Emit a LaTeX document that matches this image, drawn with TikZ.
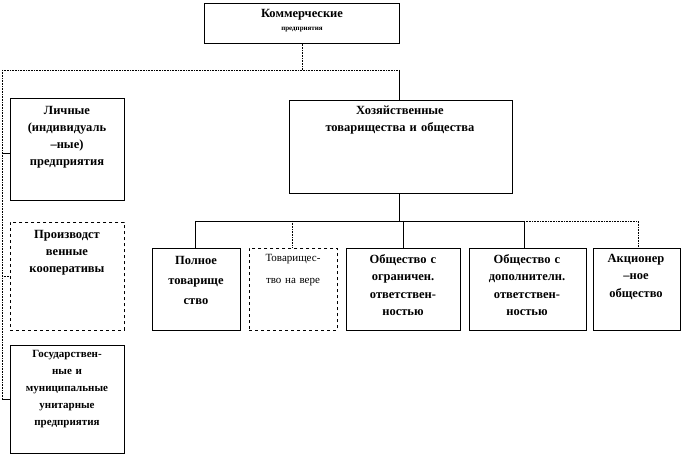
\documentclass[tikz,border=0pt]{standalone}
\usepackage{fontspec}
\setmainfont{Liberation Serif}
\begin{document}
\begin{tikzpicture}[x=1pt,y=-1pt,
 bx/.style={draw,rectangle,anchor=north west,inner sep=0pt,line width=0.6pt},
 tx/.style={anchor=north,align=center,inner sep=0pt,font=\bfseries\fontsize{12.5}{17}\selectfont},
 ln/.style={draw,line width=0.6pt},
 dl/.style={draw,densely dotted,line width=0.6pt}]
\useasboundingbox (0,0) rectangle (686,457);
\node[bx,minimum width=195pt,minimum height=40pt] (top) at (204,3) {};
\node[tx] (ttop) at (302,9) {Коммерческие\\[-4pt]{\fontsize{7}{7}\selectfont предприятия}};
\node[bx,minimum width=114pt,minimum height=102pt] (lich) at (10,98) {};
\node[tx,text width=112pt] (tlich) at (67,106) {Личные\\(индивидуаль\\–ные)\\предприятия};
\node[bx,dashed,minimum width=114pt,minimum height=108pt] (proi) at (10,222) {};
\node[tx,text width=112pt] (tproi) at (67,230) {Производст\\венные\\кооперативы};
\node[bx,minimum width=114pt,minimum height=108pt] (gos) at (10,345) {};
\node[tx,text width=114pt,font=\bfseries\fontsize{11}{17}\selectfont] (tgos) at (67,350) {Государствен-\\ные  и\\муниципальные\\унитарные\\предприятия};
\node[bx,minimum width=223pt,minimum height=93pt] (hoz) at (289,100) {};
\node[tx,text width=215pt] (thoz) at (400,106) {Хозяйственные\\товарищества и общества};
\node[bx,minimum width=88pt,minimum height=82pt] (c1) at (152,248) {};
\node[tx,text width=86pt,font=\bfseries\fontsize{12.5}{20}\selectfont] (tc1) at (196,256) {Полное\\товарище\\ство};
\node[bx,dashed,minimum width=88pt,minimum height=82pt] (c2) at (249,248) {};
\node[tx,text width=86pt,font=\fontsize{11}{22}\selectfont] (tc2) at (293,254) {Товарищес-\\тво на вере};
\node[bx,minimum width=114pt,minimum height=82pt] (c3) at (346,248) {};
\node[tx,text width=112pt,font=\bfseries\fontsize{12.5}{17.5}\selectfont] (tc3) at (403,254) {Общество с\\ограничен.\\ответствен-\\ностью};
\node[bx,minimum width=117pt,minimum height=82pt] (c4) at (469,248) {};
\node[tx,text width=115pt,font=\bfseries\fontsize{12.5}{17.5}\selectfont] (tc4) at (527,254) {Общество с\\дополнителн.\\ответствен-\\ностью};
\node[bx,minimum width=87pt,minimum height=82pt] (c5) at (593,248) {};
\node[tx,text width=85pt,font=\bfseries\fontsize{12.5}{17.5}\selectfont] (tc5) at (636,254) {Акционер\\–ное\\общество};
\coordinate (l1) at (2,70);
\coordinate (r1) at (399,70);
\coordinate (m1) at (302,70);
\draw[dl] (top.south -| m1) -- (m1);
\draw[dl] (l1) -- (r1);
\draw[ln] (r1) -- (r1 |- hoz.north);
\draw[dl] (l1) -- (2,399);
\draw[ln] (2,153) -- (lich.west |- 0,153);
\draw[dl] (2,276) -- (proi.west |- 0,276);
\draw[ln] (2,399) -- (gos.west |- 0,399);
\coordinate (h) at (399,221);
\draw[ln] (hoz.south -| h) -- (h);
\draw[ln] (195,221) -- (524,221);
\draw[dl] (524,221) -- (638,221) -- (638,248);
\draw[ln] (195,221) -- (195,248);
\draw[dl] (292,221) -- (292,248);
\draw[ln] (403,221) -- (403,248);
\draw[ln] (524,221) -- (524,248);
\end{tikzpicture}
\end{document}
